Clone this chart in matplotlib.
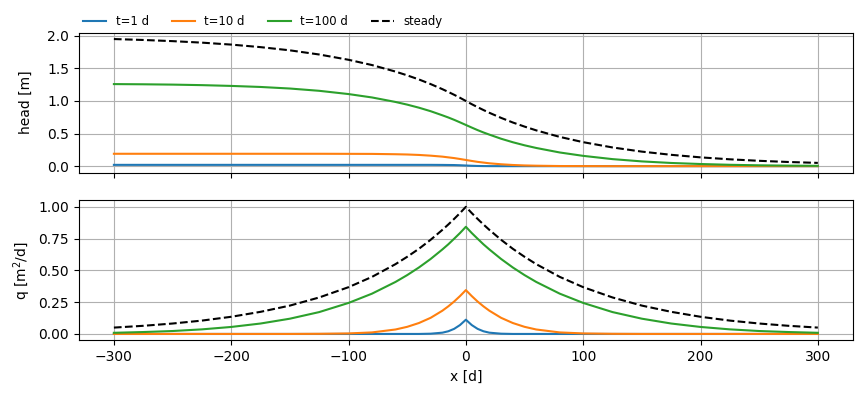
import matplotlib
matplotlib.use("Agg")
import matplotlib.pyplot as plt
import numpy as np

# x positions [m]
x = [-300, -275, -250, -225, -200, -175, -150, -125, -100, -80, -60, -50, -40,
     -30, -20, -15, -10, -5, 0, 5, 10, 15, 20, 30, 40, 50, 60, 80, 100, 125,
     150, 175, 200, 225, 250, 275, 300]

labels = ["t=1 d", "t=10 d", "t=100 d"]

# head [m]
h_t1 = [0.020, 0.020, 0.020, 0.020, 0.020, 0.020, 0.020, 0.020, 0.020, 0.020,
        0.020, 0.020, 0.020, 0.020, 0.019, 0.018, 0.017, 0.014, 0.010, 0.006,
        0.003, 0.0015, 0.0007, 0.0001, 0.0, 0.0, 0.0, 0.0, 0.0, 0.0, 0.0, 0.0,
        0.0, 0.0, 0.0, 0.0, 0.0]
h_t10 = [0.190, 0.190, 0.190, 0.190, 0.190, 0.190, 0.190, 0.190, 0.189, 0.188,
         0.183, 0.179, 0.172, 0.161, 0.146, 0.135, 0.124, 0.110, 0.095, 0.080,
         0.066, 0.055, 0.044, 0.029, 0.018, 0.011, 0.007, 0.002, 0.001, 0.0,
         0.0, 0.0, 0.0, 0.0, 0.0, 0.0, 0.0]
h_t100 = [1.259, 1.256, 1.251, 1.243, 1.231, 1.215, 1.191, 1.156, 1.106, 1.054,
          0.985, 0.944, 0.897, 0.843, 0.780, 0.747, 0.711, 0.672, 0.632, 0.592,
          0.553, 0.517, 0.484, 0.421, 0.367, 0.320, 0.279, 0.210, 0.158, 0.108,
          0.073, 0.049, 0.033, 0.021, 0.013, 0.008, 0.005]
h_steady = [1.950, 1.936, 1.918, 1.895, 1.865, 1.826, 1.777, 1.713, 1.632,
            1.551, 1.451, 1.393, 1.330, 1.259, 1.181, 1.139, 1.095, 1.049,
            1.000, 0.951, 0.905, 0.861, 0.819, 0.741, 0.670, 0.607, 0.549,
            0.449, 0.368, 0.287, 0.223, 0.174, 0.135, 0.105, 0.082, 0.064,
            0.050]

# discharge q [m2/d]
q_t1 = [0.0, 0.0, 0.0, 0.0, 0.0, 0.0, 0.0, 0.0, 0.0, 0.0, 0.0, 0.0, 0.0,
        0.002, 0.010, 0.021, 0.040, 0.070, 0.112, 0.070, 0.040, 0.021, 0.010,
        0.002, 0.0, 0.0, 0.0, 0.0, 0.0, 0.0, 0.0, 0.0, 0.0, 0.0, 0.0, 0.0, 0.0]
q_t10 = [0.0, 0.0, 0.0, 0.0, 0.0, 0.0, 0.0, 0.001, 0.004, 0.012, 0.035, 0.056,
         0.086, 0.127, 0.183, 0.217, 0.255, 0.298, 0.345, 0.298, 0.255, 0.217,
         0.183, 0.127, 0.086, 0.056, 0.035, 0.012, 0.004, 0.001, 0.0, 0.0, 0.0,
         0.0, 0.0, 0.0, 0.0]
q_t100 = [0.009, 0.015, 0.023, 0.036, 0.055, 0.082, 0.120, 0.172, 0.244, 0.317,
          0.409, 0.463, 0.523, 0.590, 0.665, 0.705, 0.749, 0.794, 0.843, 0.794,
          0.749, 0.705, 0.665, 0.590, 0.523, 0.463, 0.409, 0.317, 0.244, 0.172,
          0.120, 0.082, 0.055, 0.036, 0.023, 0.015, 0.009]
q_steady = [0.050, 0.064, 0.082, 0.105, 0.135, 0.174, 0.223, 0.287, 0.368,
            0.449, 0.549, 0.607, 0.670, 0.741, 0.819, 0.861, 0.905, 0.951,
            1.000, 0.951, 0.905, 0.861, 0.819, 0.741, 0.670, 0.607, 0.549,
            0.449, 0.368, 0.287, 0.223, 0.174, 0.135, 0.105, 0.082, 0.064,
            0.050]

fig, (ax1, ax2) = plt.subplots(2, 1, sharex=True, figsize=(8.62, 3.93), dpi=100)
fig.subplots_adjust(left=0.0913, right=0.9896, top=0.9168, bottom=0.1341,
                    hspace=0.2)

for h, lab in zip([h_t1, h_t10, h_t100], labels):
    ax1.plot(x, h, label=lab)
ax1.plot(x, h_steady, 'k--', label='steady')
ax1.set_ylabel('head [m]')
ax1.grid()
ax1.legend(loc='lower left', bbox_to_anchor=(0, 1), ncol=4, frameon=False,
           fontsize='small', borderaxespad=0)

for q in [q_t1, q_t10, q_t100]:
    ax2.plot(x, q)
ax2.plot(x, q_steady, 'k--')
ax2.set_ylabel('q [m$^2$/d]')
ax2.set_xlabel('x [d]')
ax2.grid()

fig.align_ylabels([ax1, ax2])

plt.savefig('out.png')
